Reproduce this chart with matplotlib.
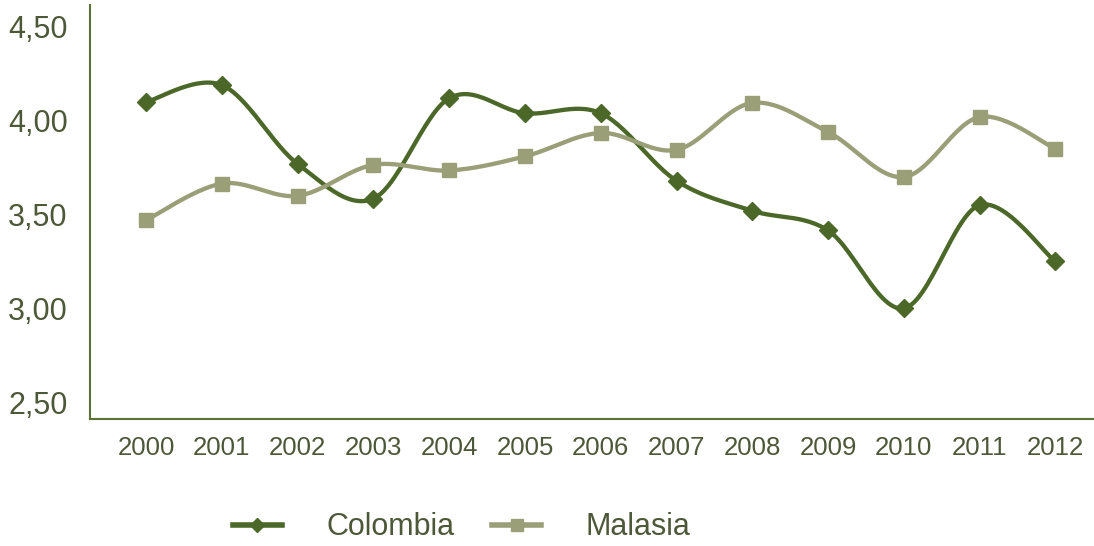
import numpy as np
import matplotlib
matplotlib.use("Agg")
import matplotlib.pyplot as plt
from matplotlib.lines import Line2D

plt.rcParams['font.family'] = ['Liberation Sans', 'DejaVu Sans']

# Datos de la serie
anios = [2000, 2001, 2002, 2003, 2004, 2005, 2006, 2007, 2008, 2009, 2010, 2011, 2012]
colombia = [4.10, 4.19, 3.77, 3.585, 4.12, 4.04, 4.04, 3.68, 3.52, 3.415, 3.00, 3.55, 3.25]
malasia = [3.47, 3.665, 3.60, 3.765, 3.735, 3.81, 3.935, 3.845, 4.095, 3.94, 3.70, 4.02, 3.85]
ticks_y = [2.5, 3.0, 3.5, 4.0, 4.5]
etiquetas_y = ["2,50", "3,00", "3,50", "4,00", "4,50"]

COLOR_COL = "#4b6829"
COLOR_MAL = "#9a9f78"
COLOR_TXT = "#4d5838"
COLOR_EJE = "#5b7338"


def curva_suave(x, y, pasos=30):
    """Curva Catmull-Rom (Bezier cubica) que pasa por todos los puntos."""
    x = np.asarray(x, float)
    y = np.asarray(y, float)
    px = np.concatenate([[x[0]], x, [x[-1]]])
    py = np.concatenate([[y[0]], y, [y[-1]]])
    xs, ys = [], []
    t = np.linspace(0, 1, pasos)
    for i in range(1, len(px) - 2):
        p0 = np.array([px[i], py[i]])
        p3 = np.array([px[i + 1], py[i + 1]])
        c1 = p0 + (np.array([px[i + 1], py[i + 1]]) - np.array([px[i - 1], py[i - 1]])) / 6
        c2 = p3 - (np.array([px[i + 2], py[i + 2]]) - np.array([px[i], py[i]])) / 6
        b = (((1 - t) ** 3)[:, None] * p0 + (3 * (1 - t) ** 2 * t)[:, None] * c1
             + (3 * (1 - t) * t ** 2)[:, None] * c2 + (t ** 3)[:, None] * p3)
        xs.append(b[:, 0])
        ys.append(b[:, 1])
    return np.concatenate(xs), np.concatenate(ys)


fig = plt.figure(figsize=(10.94, 5.46), dpi=100)
ax = fig.add_axes([0.0823, 0.2326, 0.9177, 0.7582])

for serie, color, marca, tam in [(colombia, COLOR_COL, 'D', 9), (malasia, COLOR_MAL, 's', 10.5)]:
    sx, sy = curva_suave(anios, serie)
    ax.plot(sx, sy, color=color, linewidth=3.1, solid_capstyle='round', zorder=2)
    ax.plot(anios, serie, linestyle='none', marker=marca, markersize=tam,
            color=color, zorder=3)

ax.set_xlim(1999.26, 2012.51)
ax.set_ylim(2.41, 4.617)
ax.set_xticks(anios)
ax.set_xticklabels([str(a) for a in anios], fontsize=18.5, color=COLOR_TXT)
ax.set_yticks(ticks_y)
ax.set_yticklabels(etiquetas_y, fontsize=22, color=COLOR_TXT)
ax.tick_params(axis='both', length=0)
ax.tick_params(axis='x', pad=12)
ax.tick_params(axis='y', pad=16)

for lado in ['top', 'right']:
    ax.spines[lado].set_visible(False)
for lado in ['left', 'bottom']:
    ax.spines[lado].set_color(COLOR_EJE)
    ax.spines[lado].set_linewidth(1.5)

manejadores = [
    Line2D([], [], color=COLOR_COL, linewidth=4, marker='D', markersize=7.5),
    Line2D([], [], color=COLOR_MAL, linewidth=4, marker='s', markersize=9),
]
leg = fig.legend(manejadores, ["Colombia", "Malasia"], loc='center',
                 bbox_to_anchor=(0.422, 0.034), ncol=2, frameon=False,
                 fontsize=22, handlelength=1.6, handletextpad=1.45,
                 columnspacing=1.25)
for texto in leg.get_texts():
    texto.set_color(COLOR_TXT)

fig.savefig("out.png", dpi=100)
